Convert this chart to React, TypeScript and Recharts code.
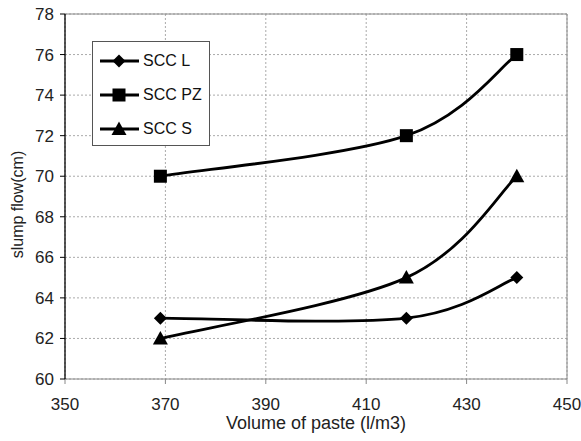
import React from "react";
import {
  LineChart,
  Line,
  XAxis,
  YAxis,
  CartesianGrid,
  ReferenceLine,
} from "recharts";

const pasteVolume = [369, 418, 440];
const sccL = [63, 63, 65];
const sccPZ = [70, 72, 76];
const sccS = [62, 65, 70];
const xTicks = [350, 370, 390, 410, 430, 450];
const yTicks = [60, 62, 64, 66, 68, 70, 72, 74, 76, 78];

const rows = pasteVolume.map((v, i) => ({
  volume: v,
  L: sccL[i],
  PZ: sccPZ[i],
  S: sccS[i],
}));

const FONT = "'Liberation Sans', Arial, sans-serif";

// Excel-style smoothed line (catmull-rom like bezier)
const smoothCurve = (context: any) => {
  let pts: number[][] = [];
  return {
    areaStart() {},
    areaEnd() {},
    lineStart() {
      pts = [];
    },
    point(x: number, y: number) {
      pts.push([+x, +y]);
    },
    lineEnd() {
      if (!pts.length) return;
      context.moveTo(pts[0][0], pts[0][1]);
      for (let i = 0; i < pts.length - 1; i++) {
        const p0 = pts[Math.max(i - 1, 0)];
        const p1 = pts[i];
        const p2 = pts[i + 1];
        const p3 = pts[Math.min(i + 2, pts.length - 1)];
        context.bezierCurveTo(
          p1[0] + (p2[0] - p0[0]) / 6,
          p1[1] + (p2[1] - p0[1]) / 6,
          p2[0] - (p3[0] - p1[0]) / 6,
          p2[1] - (p3[1] - p1[1]) / 6,
          p2[0],
          p2[1]
        );
      }
    },
  };
};

const Marker = ({ cx, cy, shape }: any) => {
  if (cx == null || cy == null) return null;
  if (shape === "diamond") {
    const r = 6.5;
    return (
      <polygon
        points={`${cx},${cy - r} ${cx + r},${cy} ${cx},${cy + r} ${cx - r},${cy}`}
        fill="#000"
      />
    );
  }
  if (shape === "square") {
    return <rect x={cx - 6.5} y={cy - 6.5} width={13} height={13} fill="#000" />;
  }
  return (
    <polygon
      points={`${cx},${cy - 7.5} ${cx + 7.5},${cy + 6} ${cx - 7.5},${cy + 6}`}
      fill="#000"
    />
  );
};

const legendItems = [
  { name: "SCC L", shape: "diamond" },
  { name: "SCC PZ", shape: "square" },
  { name: "SCC S", shape: "triangle" },
];

const ChartLegend = () => (
  <div
    style={{
      position: "absolute",
      left: 92,
      top: 41,
      width: 118,
      height: 105,
      border: "1px solid #555",
      background: "#fff",
      boxSizing: "border-box",
      paddingTop: 2,
    }}
  >
    {legendItems.map((item) => (
      <div
        key={item.name}
        style={{ display: "flex", alignItems: "center", height: 34 }}
      >
        <svg width={50} height={20} style={{ display: "block" }}>
          <line x1={7} y1={10} x2={46} y2={10} stroke="#000" strokeWidth={2.8} />
          <Marker cx={26} cy={10} shape={item.shape} />
        </svg>
        <span style={{ fontFamily: FONT, fontSize: 16, color: "#111" }}>
          {item.name}
        </span>
      </div>
    ))}
  </div>
);

const tickStyle = { fontFamily: FONT, fontSize: 17, fill: "#222" };

const YLabel = ({ viewBox }: any) => {
  const cx = viewBox.x + viewBox.width - 48;
  const cy = viewBox.y + viewBox.height / 2 + 8;
  return (
    <text
      x={cx}
      y={cy}
      transform={`rotate(-90, ${cx}, ${cy})`}
      textAnchor="middle"
      dominantBaseline="central"
      style={{ fontFamily: FONT, fontSize: 16, fill: "#222" }}
    >
      slump flow(cm)
    </text>
  );
};

export default function App() {
  return (
    <div
      style={{
        position: "absolute",
        left: 0,
        top: 0,
        width: 581,
        height: 441,
        background: "#fff",
      }}
    >
      <LineChart
        width={581}
        height={441}
        data={rows}
        margin={{ top: 14, right: 14, bottom: 12, left: 20 }}
      >
        <CartesianGrid stroke="#aaa" strokeDasharray="2 2" />
        <XAxis
          dataKey="volume"
          type="number"
          domain={[350, 450]}
          ticks={xTicks}
          height={50}
          tick={tickStyle}
          tickLine={{ stroke: "#888" }}
          axisLine={{ stroke: "#888" }}
          tickSize={5}
          tickMargin={14}
          label={{
            value: "Volume of paste (l/m3)",
            position: "insideBottom",
            offset: 0,
            style: { fontFamily: FONT, fontSize: 18, fill: "#222" },
          }}
        />
        <YAxis
          type="number"
          domain={[60, 78]}
          ticks={yTicks}
          width={45}
          tick={tickStyle}
          tickLine={{ stroke: "#000" }}
          axisLine={{ stroke: "#000", strokeWidth: 1.3 }}
          tickSize={5}
          tickMargin={6}
          interval={0}
          label={<YLabel />}
        />
        <ReferenceLine y={78} stroke="#888" />
        <ReferenceLine x={450} stroke="#888" />
        <Line
          dataKey="L"
          name="SCC L"
          type={smoothCurve as any}
          stroke="#000"
          strokeWidth={2.8}
          dot={(p: any) => <Marker key={`l-${p.index}`} {...p} shape="diamond" />}
          activeDot={false}
          isAnimationActive={false}
        />
        <Line
          dataKey="PZ"
          name="SCC PZ"
          type={smoothCurve as any}
          stroke="#000"
          strokeWidth={2.8}
          dot={(p: any) => <Marker key={`pz-${p.index}`} {...p} shape="square" />}
          activeDot={false}
          isAnimationActive={false}
        />
        <Line
          dataKey="S"
          name="SCC S"
          type={smoothCurve as any}
          stroke="#000"
          strokeWidth={2.8}
          dot={(p: any) => <Marker key={`s-${p.index}`} {...p} shape="triangle" />}
          activeDot={false}
          isAnimationActive={false}
        />
      </LineChart>
      <ChartLegend />
    </div>
  );
}
